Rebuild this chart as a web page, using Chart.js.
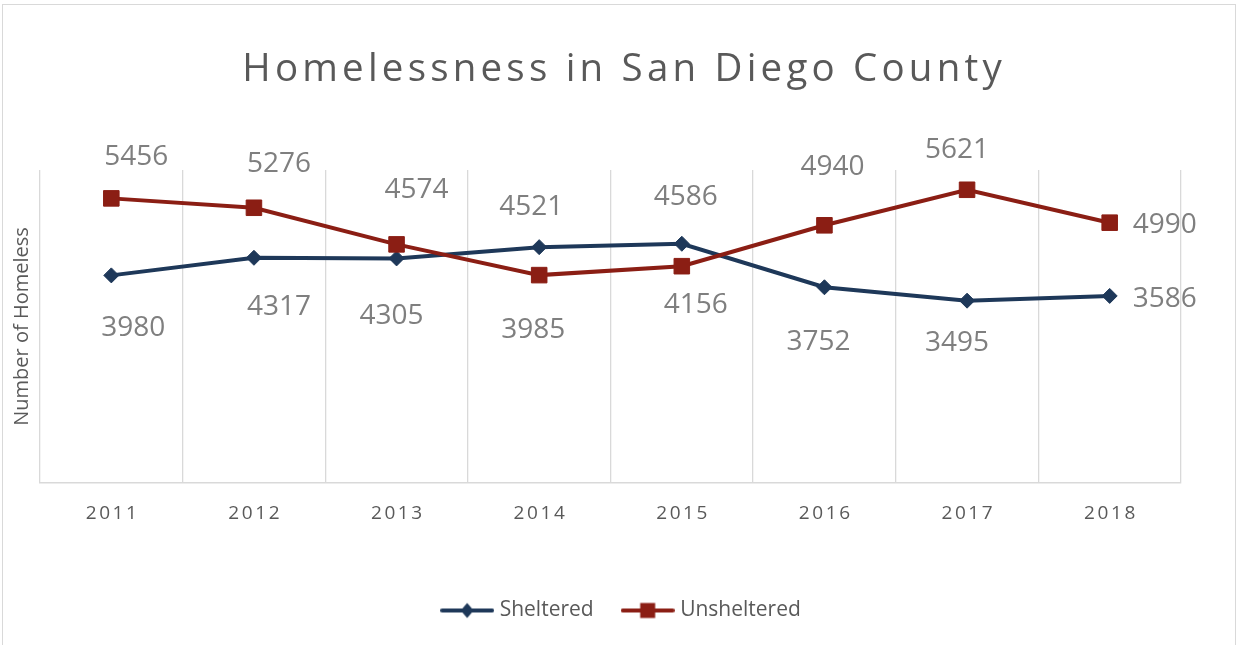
<!DOCTYPE html>
<html>
<head>
<meta charset="utf-8">
<title>Homelessness in San Diego County</title>
<script src="https://cdn.jsdelivr.net/npm/chart.js@4.4.1/dist/chart.umd.min.js"></script>
<style>
  html, body { margin: 0; padding: 0; background: #fff; overflow: hidden; }
  #wrap { position: relative; width: 1236px; height: 645px; }
</style>
</head>
<body>
<div id="wrap"><canvas id="chart"></canvas></div>
<script>
// Data
const years = ['2011', '2012', '2013', '2014', '2015', '2016', '2017', '2018'];
const sheltered = [3980, 4317, 4305, 4521, 4586, 3752, 3495, 3586];
const unsheltered = [5456, 5276, 4574, 3985, 4156, 4940, 5621, 4990];
const seriesNames = ['Sheltered', 'Unsheltered'];
const chartTitle = 'Homelessness in San Diego County';
const yAxisTitle = 'Number of Homeless';
const yMin = 0;
const yMax = 6000;

// the data labels were dragged by hand in the original, so keep their nudges (px from the point)
const shelteredLabelNudge = [[22, 51], [25, 47], [-5, 56], [-8, -42], [4, -49], [-6, 53], [-10, 40], [55, 1]];
const unshelteredLabelNudge = [[25, -43], [25, -46], [20, -56], [-6, 53], [14, 37], [8, -60], [-10, -42], [55, 0]];

const FONT = '"Open Sans", "Noto Sans", sans-serif';
const TEXT_GRAY = '#595959';
const LABEL_GRAY = '#7f7f7f';
const GRID_GRAY = '#d9d9d9';
const NAVY = '#1e3859';
const RED = '#8b1e14';

// legend swatch: short line with the marker in the middle
function legendIcon(color, style) {
  const c = document.createElement('canvas');
  c.width = 54;
  c.height = 20;
  const ctx = c.getContext('2d');
  ctx.strokeStyle = color;
  ctx.fillStyle = color;
  ctx.lineWidth = 4;
  ctx.lineCap = 'round';
  ctx.beginPath();
  ctx.moveTo(2, 10);
  ctx.lineTo(52, 10);
  ctx.stroke();
  ctx.beginPath();
  if (style === 'rect') {
    ctx.rect(19.5, 2.5, 15, 15);
  } else {
    ctx.moveTo(27, 2.5);
    ctx.lineTo(33.5, 10);
    ctx.lineTo(27, 17.5);
    ctx.lineTo(20.5, 10);
    ctx.closePath();
  }
  ctx.fill();
  return c;
}
const legendIcons = [legendIcon(NAVY, 'rectRot'), legendIcon(RED, 'rect')];

// draw text with letter spacing, centred on cx
function spacedText(ctx, text, cx, y, spacing) {
  ctx.letterSpacing = '0px';
  const w = ctx.measureText(text).width + spacing * (text.length - 1);
  ctx.textAlign = 'left';
  ctx.letterSpacing = spacing + 'px';
  ctx.fillText(text, cx - w / 2, y);
  ctx.letterSpacing = '0px';
}

const excelLook = {
  id: 'excelLook',
  beforeDraw(chart) {
    const ctx = chart.ctx;
    ctx.save();
    ctx.fillStyle = '#fff';
    ctx.fillRect(0, 0, chart.width, chart.height);
    ctx.strokeStyle = GRID_GRAY;
    ctx.lineWidth = 1;
    ctx.strokeRect(2.5, 4.5, chart.width - 3, chart.height + 10);
    ctx.restore();
  },
  afterDatasetsDraw(chart) {
    const ctx = chart.ctx;
    ctx.save();
    ctx.font = '28px ' + FONT;
    ctx.fillStyle = LABEL_GRAY;
    ctx.textAlign = 'center';
    ctx.textBaseline = 'middle';
    [shelteredLabelNudge, unshelteredLabelNudge].forEach((nudge, di) => {
      const meta = chart.getDatasetMeta(di);
      const values = chart.data.datasets[di].data;
      meta.data.forEach((pt, i) => {
        ctx.fillText(String(values[i]), pt.x + nudge[i][0], pt.y + nudge[i][1] + 2);
      });
    });
    ctx.restore();
  },
  afterDraw(chart) {
    const ctx = chart.ctx;
    ctx.save();
    ctx.fillStyle = TEXT_GRAY;
    ctx.textBaseline = 'alphabetic';
    ctx.font = '38.5px ' + FONT;
    spacedText(ctx, chartTitle, chart.width / 2 + 4, 81, 4.2);

    const xs = chart.scales.x;
    ctx.font = '19px ' + FONT;
    ctx.textBaseline = 'middle';
    years.forEach((label, i) => {
      spacedText(ctx, label, xs.getPixelForValue(i), xs.top + 31, 2.6);
    });
    ctx.restore();
  }
};

const ctx = document.getElementById('chart').getContext('2d');
new Chart(ctx, {
  type: 'line',
  data: {
    labels: years,
    datasets: [
      {
        label: seriesNames[0],
        data: sheltered,
        borderColor: NAVY,
        backgroundColor: NAVY,
        borderWidth: 4,
        tension: 0,
        pointStyle: 'rectRot',
        pointRadius: 7.5,
        pointBorderWidth: 1,
        order: 1
      },
      {
        label: seriesNames[1],
        data: unsheltered,
        borderColor: RED,
        backgroundColor: RED,
        borderWidth: 4,
        tension: 0,
        pointStyle: 'rect',
        pointRadius: 11,
        pointBorderWidth: 1,
        order: 0
      }
    ]
  },
  options: {
    responsive: true,
    maintainAspectRatio: false,
    animation: false,
    layout: {
      autoPadding: false,
      padding: { top: 170, left: 10, right: 0, bottom: 14 }
    },
    plugins: {
      title: { display: false },
      tooltip: { enabled: false },
      legend: {
        position: 'bottom',
        labels: {
          usePointStyle: true,
          pointStyleWidth: 44,
          padding: 32,
          color: TEXT_GRAY,
          font: { family: FONT, size: 21 },
          generateLabels(chart) {
            const items = Chart.defaults.plugins.legend.labels.generateLabels(chart);
            items.sort((a, b) => a.datasetIndex - b.datasetIndex);
            items.forEach(item => { item.pointStyle = legendIcons[item.datasetIndex]; });
            return items;
          }
        }
      }
    },
    scales: {
      x: {
        offset: true,
        grid: { offset: true, color: GRID_GRAY, lineWidth: 1.3, drawTicks: false },
        border: { color: GRID_GRAY, width: 1.5 },
        ticks: { display: false },
        afterFit(scale) { scale.height = 85; }
      },
      y: {
        min: yMin,
        max: yMax,
        ticks: { display: false },
        grid: { display: false },
        border: { display: false },
        title: {
          display: true,
          text: yAxisTitle,
          color: TEXT_GRAY,
          font: { family: FONT, size: 20 },
          padding: { top: 0, bottom: 0 }
        },
        afterFit(scale) { scale.width = 30; }
      },
      yRight: {
        position: 'right',
        type: 'linear',
        ticks: { display: false },
        grid: { display: false },
        border: { display: false },
        afterFit(scale) { scale.width = 55; }
      }
    }
  },
  plugins: [excelLook]
});
</script>
</body>
</html>
